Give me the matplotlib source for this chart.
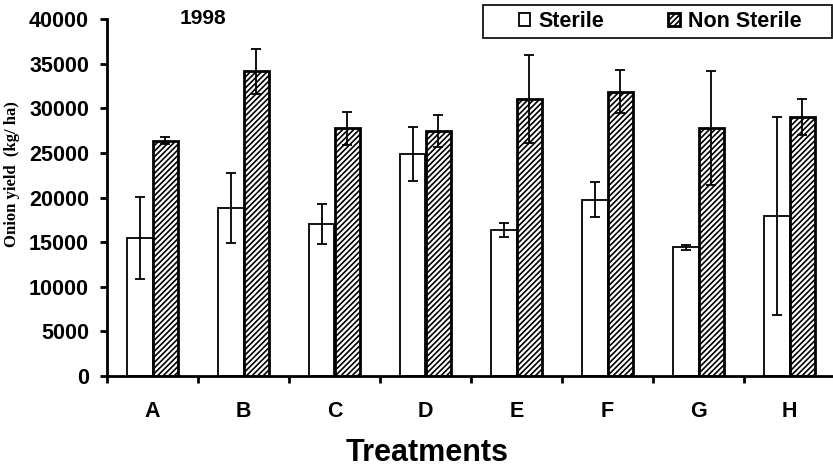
import matplotlib
matplotlib.use("Agg")
import matplotlib.pyplot as plt
from matplotlib.patches import Rectangle
import numpy as np

categories = ["A", "B", "C", "D", "E", "F", "G", "H"]
sterile = [15450, 18850, 17050, 24900, 16350, 19750, 14400, 17950]
sterile_err = [4600, 3950, 2250, 3000, 800, 1950, 300, 11100]
non_sterile = [26350, 34150, 27750, 27450, 31050, 31850, 27750, 29000]
non_sterile_err = [400, 2500, 1850, 1750, 4900, 2400, 6400, 2000]

plt.rcParams['font.family'] = ['Liberation Sans', 'DejaVu Sans']
plt.rcParams['hatch.linewidth'] = 1.2

W, H = 833, 471
fig = plt.figure(figsize=(W/100, H/100), dpi=100)
ax = fig.add_axes([107/W, 95/H, 728/W, 357/H])

x = np.arange(len(categories)) + 0.5
w = 0.275
ax.bar(x - w/2, sterile, w, color='white', edgecolor='black', linewidth=1.3,
       yerr=sterile_err, error_kw=dict(ecolor='black', elinewidth=1.3, capsize=3.8, capthick=1.3),
       label='Sterile', zorder=2)
ax.bar(x + w/2, non_sterile, w, color='white', edgecolor='black', linewidth=2.0, hatch='//////',
       yerr=non_sterile_err, error_kw=dict(ecolor='black', elinewidth=1.3, capsize=3.8, capthick=1.3),
       label='Non Sterile', zorder=2)

ax.set_xlim(0, 8)
ax.set_ylim(0, 40000)
ax.set_yticks(np.arange(0, 40001, 5000))
ax.set_xticks(np.arange(0, 9))
ax.set_xticklabels([])
ax.set_xticks(x, minor=True)
ax.set_xticklabels(categories, minor=True, fontsize=15.5, fontweight='bold')
ax.tick_params(axis='x', which='minor', length=0, pad=18)
ax.tick_params(axis='x', which='major', length=5, width=2, direction='out')
ax.tick_params(axis='y', length=5, width=2, direction='out', pad=8)
for lab in ax.get_yticklabels():
    lab.set_fontsize(15.5)
    lab.set_fontweight('bold')

for s in ['top', 'right']:
    ax.spines[s].set_visible(False)
for s in ['left', 'bottom']:
    ax.spines[s].set_linewidth(2)

ax.set_xlabel('Treatments', fontsize=22, fontweight='bold')
ax.xaxis.set_label_coords((427 - 107) / 728, -(468 - 376) / 357)
ax.xaxis.label.set_va('bottom')
ax.set_ylabel('Onion yield  (kg/ ha)', fontsize=12, fontweight='bold',
              family=['Liberation Serif', 'DejaVu Serif'])
ax.yaxis.set_label_coords(-(107 - 20) / 728, 0.566)

ax.text(0.1, 40000, '1998', fontsize=15, fontweight='bold', va='center', ha='left',
        transform=ax.get_yaxis_transform())

fig.add_artist(Rectangle((483/W, 1 - 38/H), (832 - 483)/W, 33/H, transform=fig.transFigure,
                         facecolor='white', edgecolor='black', linewidth=1.2, zorder=5))
leg = fig.legend(*ax.get_legend_handles_labels(), loc='center',
                 bbox_to_anchor=(660/W, 1 - 21.5/H), bbox_transform=fig.transFigure,
                 ncol=2, frameon=False,
                 prop=dict(weight='bold', size=15.5), handlelength=0.55, handleheight=0.55,
                 handletextpad=0.35, columnspacing=3.0, borderpad=0.1, borderaxespad=0)
leg.set_zorder(6)

fig.savefig('out.png', dpi=100)
